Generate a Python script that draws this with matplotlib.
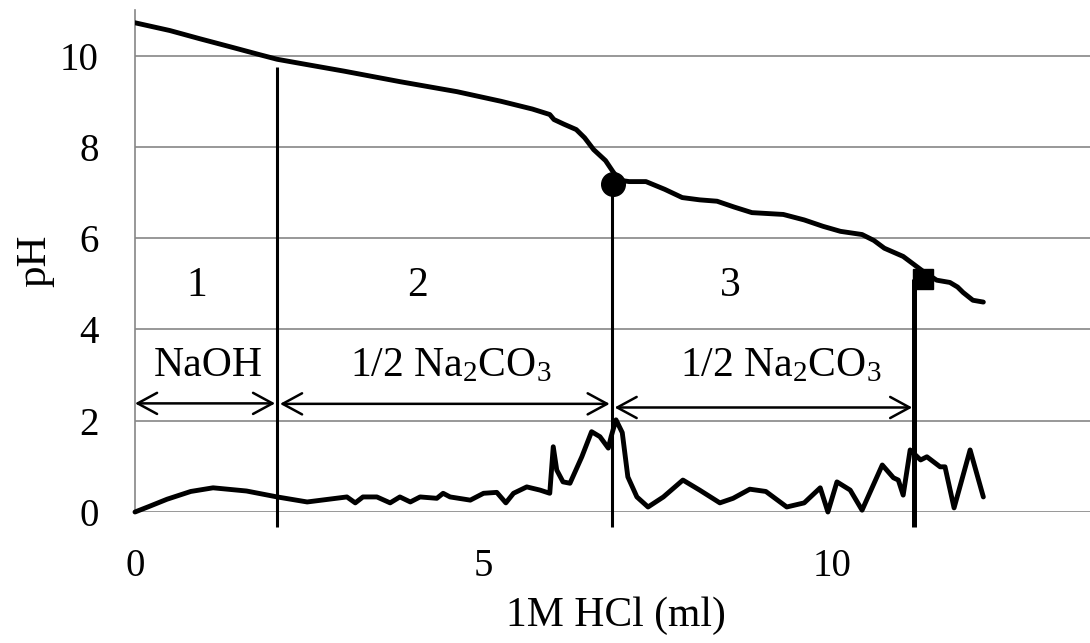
import matplotlib
matplotlib.use('Agg')
import matplotlib.pyplot as plt

plt.rcParams['font.family'] = ['Liberation Serif', 'DejaVu Serif']
plt.rcParams['mathtext.fontset'] = 'custom'
plt.rcParams['mathtext.rm'] = 'Liberation Serif'
plt.rcParams['mathtext.default'] = 'regular'

# pH titration curve
ph_x = [0, 0.5, 0.93, 1.4, 1.79, 2.04, 2.37, 3.0, 3.8, 4.62, 5.25, 5.7, 5.95, 6.01, 6.15, 6.33,
        6.45, 6.58, 6.75, 6.86, 6.95, 7.09, 7.33, 7.6, 7.85, 8.1, 8.35, 8.6, 8.85, 9.30,
        9.6, 9.87, 10.12, 10.43, 10.6, 10.75, 11.02, 11.3, 11.5, 11.69, 11.8, 11.88,
        12.02, 12.17]
ph_y = [10.72, 10.55, 10.37, 10.18, 10.02, 9.92, 9.83, 9.66, 9.43, 9.21, 9.0, 8.83, 8.71, 8.60,
        8.5, 8.38, 8.2, 7.94, 7.7, 7.45, 7.27, 7.24, 7.24, 7.07, 6.89, 6.84, 6.81, 6.68,
        6.56, 6.52, 6.4, 6.26, 6.15, 6.08, 5.95, 5.78, 5.60, 5.28, 5.08, 5.03, 4.93,
        4.81, 4.64, 4.60]

# derivative curve
d_x = [0, 0.2, 0.46, 0.8, 1.12, 1.6, 2.04, 2.47, 3.04, 3.16, 3.27, 3.47, 3.66, 3.8, 3.95,
       4.09, 4.33, 4.42, 4.52, 4.81, 5.0, 5.19, 5.32, 5.43, 5.62, 5.81, 5.95, 6.0, 6.05,
       6.14, 6.24, 6.41, 6.55, 6.67, 6.79, 6.83, 6.90, 6.99, 7.07, 7.2, 7.36, 7.58, 7.86,
       8.1, 8.39, 8.58, 8.82, 9.05, 9.35, 9.6, 9.83, 9.94, 10.07, 10.26, 10.43, 10.72,
       10.88, 10.95, 11.02, 11.12, 11.27, 11.36, 11.55, 11.62, 11.75, 11.98, 12.17]
d_y = [0.0, 0.12, 0.28, 0.45, 0.53, 0.46, 0.33, 0.22, 0.33, 0.2, 0.33, 0.33, 0.2, 0.33, 0.22,
       0.33, 0.3, 0.41, 0.33, 0.26, 0.41, 0.43, 0.2, 0.41, 0.55, 0.48, 0.41, 1.43, 0.92,
       0.66, 0.63, 1.21, 1.76, 1.65, 1.4, 1.65, 2.02, 1.74, 0.77, 0.33, 0.11, 0.33, 0.70,
       0.48, 0.2, 0.3, 0.5, 0.45, 0.11, 0.2, 0.53, 0.0, 0.66, 0.48, 0.04, 1.03,
       0.75, 0.70, 0.37, 1.36, 1.14, 1.21, 0.99, 0.99, 0.09, 1.36, 0.33]

x_ticks = [0, 5, 10]
y_ticks = [0, 2, 4, 6, 8, 10]

boundaries = [0, 2.04, 6.84, 11.18]
boundary_tops = [9.76, 7.18, 5.10]
region_labels = ['1', '2', '3']
region_label_x = [0.89, 4.05, 8.54]
species_labels = ['NaOH', '1/2 Na$_2$CO$_3$', '1/2 Na$_2$CO$_3$']
species_x = [1.05, 4.53, 9.27]
arrow_y = [2.38, 2.37, 2.29]

circle_pt = (6.86, 7.18)
square_pt = (11.30, 5.10)

fig = plt.figure(figsize=(10.9, 6.43), dpi=100)
ax = fig.add_axes([135 / 1090, 1 - 512 / 643, 1 - 135 / 1090, 502 / 643])
ax.set_xlim(0, 13.7)
ax.set_ylim(0, 11)

for s in ['top', 'right', 'bottom']:
    ax.spines[s].set_visible(False)
ax.spines['left'].set_color('#868686')
ax.spines['left'].set_linewidth(1.2)
ax.set_yticks(y_ticks)
ax.set_xticks(x_ticks)
ax.yaxis.grid(True, color='#868686', linewidth=1.2)
ax.set_axisbelow(True)
ax.tick_params(axis='both', length=0, labelsize=28)
ax.tick_params(axis='y', pad=26)
ax.tick_params(axis='x', pad=26)

ax.plot(ph_x, ph_y, color='black', lw=3.5, solid_capstyle='round', solid_joinstyle='round', zorder=3)
ax.plot(d_x, d_y, color='black', lw=3.5, solid_capstyle='round', solid_joinstyle='round',
        zorder=3, clip_on=False)

lws = [2.2, 2.2, 3.6]
for i in range(1, 4):
    ax.plot([boundaries[i], boundaries[i]], [boundary_tops[i - 1], -0.33], color='black',
            lw=lws[i - 1], clip_on=False, zorder=4, solid_capstyle='butt')

ax.plot([circle_pt[0]], [circle_pt[1]], 'o', color='black', markersize=17, zorder=5)
ax.plot([square_pt[0]], [square_pt[1]], 's', color='black', markersize=15, zorder=5)

for i in range(3):
    ax.text(region_label_x[i], 4.73, region_labels[i], fontsize=30, ha='center', va='baseline')
    ax.text(species_x[i], 2.97, species_labels[i], fontsize=30, ha='center', va='baseline')
    x1 = boundaries[i] + (0.0 if i == 0 else 0.04)
    x2 = boundaries[i + 1] - 0.03
    ax.annotate('', xy=(x2, arrow_y[i]), xytext=(x1, arrow_y[i]),
                arrowprops=dict(arrowstyle='<->,head_length=0.7,head_width=0.38',
                                lw=1.8, color='black', shrinkA=0, shrinkB=0,
                                mutation_scale=20), annotation_clip=False)

ax.set_ylabel('pH', fontsize=31)
ax.yaxis.set_label_coords(-0.085, 0.5)
ax.set_xlabel('1M HCl (ml)', fontsize=30)
ax.xaxis.set_label_coords(0.504, -0.168)

fig.savefig('out.png', dpi=100)
